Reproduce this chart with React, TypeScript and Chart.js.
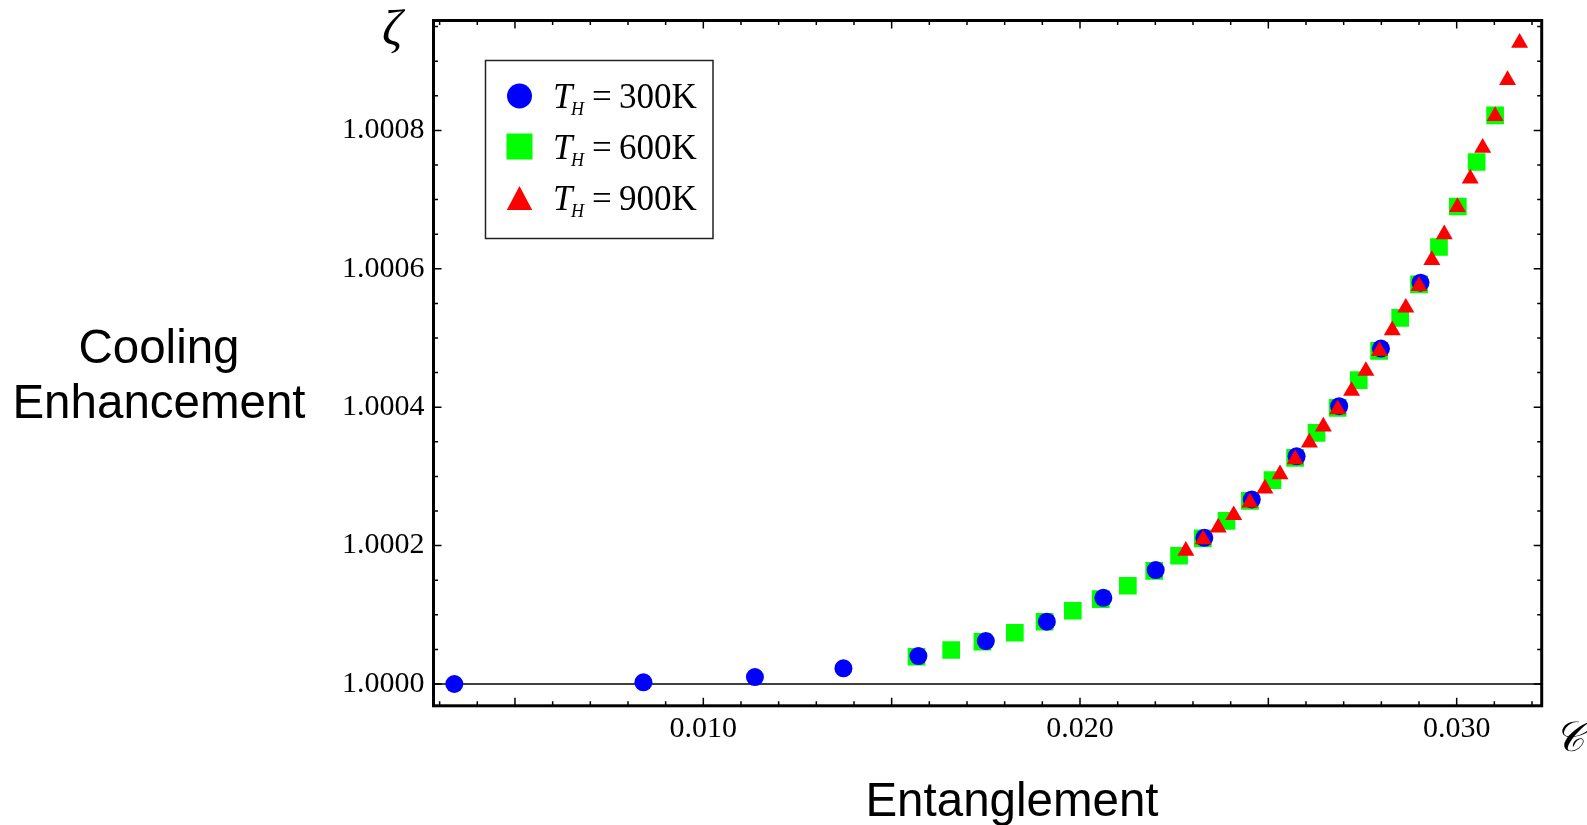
import React, { useEffect, useRef } from "react";
import { Chart, registerables } from "chart.js";

Chart.register(...registerables);

// ---------- data ----------
const blueC = [0.00339, 0.00841, 0.01137, 0.01372, 0.01571, 0.0175, 0.01912, 0.02062, 0.02201, 0.0233, 0.02456, 0.02575, 0.02688, 0.02799, 0.02904];
const blueZeta = [1.0, 1.0000025, 1.0000101, 1.0000227, 1.0000404, 1.0000621, 1.00009, 1.0001246, 1.0001646, 1.0002113, 1.0002667, 1.000329, 1.0004014, 1.0004847, 1.000580];

const greenC = [0.01566, 0.01658, 0.01741, 0.01827, 0.01906, 0.01981, 0.02055, 0.02127, 0.02197, 0.02263, 0.02326, 0.02389, 0.02451, 0.02511, 0.02571, 0.02628, 0.02684, 0.0274, 0.02794, 0.0285, 0.029, 0.02953, 0.03003, 0.03053, 0.03102];
const greenZeta = [1.0000394, 1.0000491, 1.0000611, 1.0000741, 1.00009, 1.0001059, 1.0001227, 1.000142, 1.0001636, 1.0001853, 1.0002104, 1.0002358, 1.0002647, 1.0002946, 1.0003268, 1.0003629, 1.000399, 1.000439, 1.0004813, 1.000529, 1.0005776, 1.0006315, 1.00069, 1.0007543, 1.0008217];

const redC = [0.02281, 0.02327, 0.02367, 0.02408, 0.02451, 0.02491, 0.02531, 0.02571, 0.02609, 0.02646, 0.02684, 0.02721, 0.02759, 0.02795, 0.02829, 0.02865, 0.029, 0.02934, 0.02967, 0.03002, 0.03036, 0.03069, 0.03102, 0.03135, 0.03167];
const redZeta = [1.0001925, 1.0002092, 1.0002261, 1.0002439, 1.0002622, 1.0002824, 1.0003031, 1.0003247, 1.0003488, 1.000372, 1.0003969, 1.0004235, 1.0004524, 1.0004812, 1.0005111, 1.0005438, 1.0005751, 1.0006127, 1.0006497, 1.0006892, 1.0007305, 1.0007748, 1.0008206, 1.0008726, 1.0009265];

const seriesTemps = ["300K", "600K", "900K"];
const xTickValues = [0.01, 0.02, 0.03];
const yTickValues = [1.0, 1.0002, 1.0004, 1.0006, 1.0008];

const X_MIN = 0.002837;
const X_MAX = 0.032257;
const Y_MIN = 0.9999685;
const Y_MAX = 1.0009588;

const BLUE = "#0000ff";
const GREEN = "#00ff00";
const RED = "#ff0000";

const SERIF = "'Liberation Serif', 'DejaVu Serif', serif";
const SANS = "'Liberation Sans', Arial, sans-serif";

const toPts = (xs: number[], ys: number[]) => xs.map((x, i) => ({ x, y: ys[i] }));

const decorPlugin = {
  id: "decor",
  beforeDatasetsDraw(chart: any) {
    const { ctx, chartArea: a, scales } = chart;
    const y0 = scales.y.getPixelForValue(1);
    ctx.save();
    ctx.strokeStyle = "#000";
    ctx.lineWidth = 1.4;
    ctx.beginPath();
    ctx.moveTo(a.left, y0);
    ctx.lineTo(a.right, y0);
    ctx.stroke();
    ctx.restore();
  },
  afterDraw(chart: any) {
    const { ctx, chartArea: a, scales } = chart;
    const sx = scales.x;
    const sy = scales.y;
    ctx.save();
    // ticks
    ctx.strokeStyle = "#000";
    ctx.lineWidth = 1.5;
    ctx.beginPath();
    for (let i = 3; i <= 32; i++) {
      const px = sx.getPixelForValue(i / 1000);
      const len = i % 5 === 0 ? 8 : 4.5;
      ctx.moveTo(px, a.bottom);
      ctx.lineTo(px, a.bottom - len);
      ctx.moveTo(px, a.top);
      ctx.lineTo(px, a.top + len);
    }
    for (let j = 0; j <= 19; j++) {
      const py = sy.getPixelForValue(1 + j * 0.00005);
      if (py < a.top + 3) continue;
      const len = j % 4 === 0 ? 8 : 4.5;
      ctx.moveTo(a.left, py);
      ctx.lineTo(a.left + len, py);
      ctx.moveTo(a.right, py);
      ctx.lineTo(a.right - len, py);
    }
    ctx.stroke();
    // frame
    ctx.lineWidth = 3;
    ctx.strokeRect(a.left, a.top, a.right - a.left, a.bottom - a.top);

    // legend
    const lx = 485.5, ly = 60.5, lw = 227.5, lh = 178;
    ctx.fillStyle = "#fff";
    ctx.fillRect(lx, ly, lw, lh);
    ctx.strokeStyle = "#222";
    ctx.lineWidth = 1.5;
    ctx.strokeRect(lx, ly, lw, lh);
    const rowY = [96, 146.5, 198];
    const mx = 519.5;
    ctx.fillStyle = BLUE;
    ctx.beginPath();
    ctx.arc(mx, rowY[0], 12.5, 0, Math.PI * 2);
    ctx.fill();
    ctx.fillStyle = GREEN;
    ctx.fillRect(mx - 13, rowY[1] - 13, 26, 26);
    ctx.fillStyle = RED;
    ctx.beginPath();
    ctx.moveTo(mx, rowY[2] - 12);
    ctx.lineTo(mx + 12.7, rowY[2] + 12);
    ctx.lineTo(mx - 12.7, rowY[2] + 12);
    ctx.closePath();
    ctx.fill();
    ctx.fillStyle = "#000";
    ctx.textBaseline = "alphabetic";
    ctx.textAlign = "left";
    seriesTemps.forEach((t, i) => {
      const base = rowY[i] + 12;
      ctx.font = `italic 35px ${SERIF}`;
      ctx.fillText("T", 553, base);
      ctx.font = `italic 18px ${SERIF}`;
      ctx.fillText("H", 571, base + 7);
      ctx.font = `35px ${SERIF}`;
      ctx.fillText("=", 592, base);
      ctx.fillText(t, 619, base);
    });

    // axis symbols
    ctx.font = `italic 50px ${SERIF}`;
    ctx.textAlign = "center";
    ctx.fillText("ζ", 392, 45);
    ctx.font = `italic 42px ${SERIF}`;
    ctx.fillText("𝒞", 1569, 751);

    // axis titles
    ctx.font = `47.5px ${SANS}`;
    ctx.fillText("Cooling", 159, 363);
    ctx.fillText("Enhancement", 159, 418);
    ctx.fillText("Entanglement", 1012, 816);
    ctx.restore();
  },
};

export default function App() {
  const ref = useRef<HTMLCanvasElement | null>(null);
  useEffect(() => {
    if (!ref.current) return;
    const chart = new Chart(ref.current, {
      type: "scatter",
      data: {
        datasets: [
          {
            label: "T_H = 300K",
            data: toPts(blueC, blueZeta),
            pointStyle: "circle",
            pointRadius: 9,
            backgroundColor: BLUE,
            borderWidth: 0,
            order: 2,
          },
          {
            label: "T_H = 600K",
            data: toPts(greenC, greenZeta),
            pointStyle: "rect",
            pointRadius: 12.5,
            backgroundColor: GREEN,
            borderWidth: 0,
            order: 3,
          },
          {
            label: "T_H = 900K",
            data: toPts(redC, redZeta),
            pointStyle: "triangle",
            pointRadius: 9.8,
            backgroundColor: RED,
            borderWidth: 0,
            order: 1,
          },
        ],
      },
      options: {
        responsive: false,
        animation: false,
        events: [],
        layout: { padding: { top: 20.5, right: 45.3, left: 0, bottom: 0 } },
        plugins: { legend: { display: false }, tooltip: { enabled: false }, title: { display: false } },
        scales: {
          x: {
            type: "linear",
            min: X_MIN,
            max: X_MAX,
            grid: { display: false, drawTicks: false },
            border: { display: false },
            ticks: {
              font: { family: SERIF, size: 30 },
              color: "#000",
              padding: 5,
              maxRotation: 0,
              autoSkip: false,
              callback: (v: any) => Number(v).toFixed(3),
            },
            afterBuildTicks: (s: any) => {
              s.ticks = xTickValues.map((v) => ({ value: v }));
            },
            afterFit: (s: any) => {
              s.height = 825 - 705.8;
              s.paddingLeft = 0;
              s.paddingRight = 0;
              s.paddingTop = 0;
              s.paddingBottom = 0;
            },
          },
          y: {
            type: "linear",
            min: Y_MIN,
            max: Y_MAX,
            grid: { display: false, drawTicks: false },
            border: { display: false },
            ticks: {
              font: { family: SERIF, size: 30 },
              color: "#000",
              padding: 9,
              autoSkip: false,
              callback: (v: any) => Number(v).toFixed(4),
            },
            afterBuildTicks: (s: any) => {
              s.ticks = yTickValues.map((v) => ({ value: v }));
            },
            afterFit: (s: any) => {
              s.width = 433.5;
              s.paddingLeft = 0;
              s.paddingRight = 0;
              s.paddingTop = 0;
              s.paddingBottom = 0;
            },
          },
        },
      },
      plugins: [decorPlugin],
    });
    return () => chart.destroy();
  }, []);
  return (
    <div style={{ position: "fixed", left: 0, top: 0, width: 1587, height: 825, background: "#fff" }}>
      <canvas ref={ref} width={1587} height={825} />
    </div>
  );
}
